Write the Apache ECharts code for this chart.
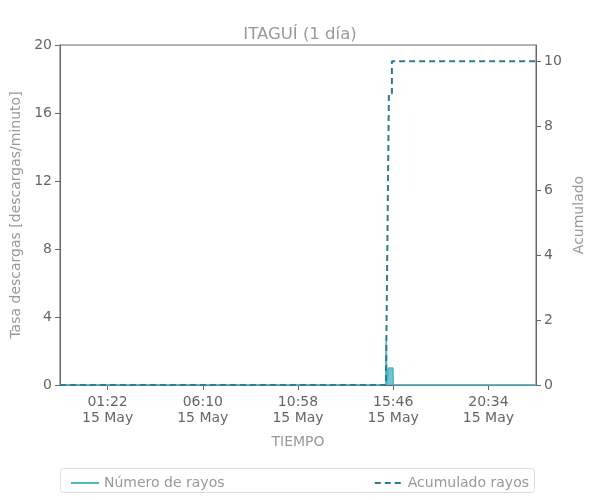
<!DOCTYPE html>
<html>
<head>
<meta charset="utf-8">
<script src="https://cdn.jsdelivr.net/npm/echarts@6/dist/echarts.min.js"></script>
<style>html,body{margin:0;padding:0;background:#fff}#c{width:600px;height:500px}</style>
</head>
<body>
<div id="c"></div>
<script>
// Time in minutes relative to 00:00 of 15 May
var xMin = -62, xMax = 1378;
var tickMinutes = [82, 370, 658, 946, 1234];
var tickLabels = ['01:22\n15 May', '06:10\n15 May', '10:58\n15 May', '15:46\n15 May', '20:34\n15 May'];

var rateTimes = [-62, 923, 925, 927, 931, 932, 945, 946, 1378];
var rateValues = [0, 0, 2.7, 0, 0, 1, 1, 0, 0];

var accTimes = [-62, 924, 933, 942, 942, 1378];
var accValues = [0, 0, 9, 9, 10, 10];

var font = 'DejaVu Sans';
function pairs(t, v) { return t.map(function (x, i) { return [x, v[i]]; }); }

var chart = echarts.init(document.getElementById('c'));
chart.setOption({
  animation: false,
  textStyle: { fontFamily: font },
  title: {
    text: 'ITAGUÍ (1 día)', left: 'center', top: 21,
    textStyle: { fontFamily: font, fontSize: 16.5, fontWeight: 'normal', color: '#999' }
  },
  grid: { left: 60, right: 64, top: 45, bottom: 115, show: true, borderColor: '#666', borderWidth: 1 },
  xAxis: {
    type: 'value', min: xMin, max: xMax,
    name: 'TIEMPO', nameLocation: 'middle', nameGap: 50,
    nameTextStyle: { color: '#999', fontSize: 14 },
    splitLine: { show: false },
    axisLine: { onZero: false, lineStyle: { color: '#666' } },
    axisTick: { customValues: tickMinutes, length: 5, lineStyle: { color: '#666' } },
    axisLabel: {
      customValues: tickMinutes, color: '#666', fontSize: 14, lineHeight: 16, margin: 9,
      formatter: function (v) { var i = tickMinutes.indexOf(v); return i >= 0 ? tickLabels[i] : ''; }
    }
  },
  yAxis: [{
    type: 'value', min: 0, max: 20, interval: 4,
    name: 'Tasa descargas [descargas/minuto]', nameLocation: 'middle', nameGap: 33,
    nameTextStyle: { color: '#999', fontSize: 14 },
    splitLine: { show: false },
    axisLine: { show: true, onZero: false, lineStyle: { color: '#666' } },
    axisTick: { show: true, length: 5, lineStyle: { color: '#666' } },
    axisLabel: { color: '#666', fontSize: 14, margin: 8 }
  }, {
    type: 'value', min: 0, max: 10.5, interval: 2,
    name: 'Acumulado', nameLocation: 'middle', nameGap: 31,
    nameTextStyle: { color: '#999', fontSize: 14 },
    splitLine: { show: false },
    axisLine: { show: true, onZero: false, lineStyle: { color: '#666' } },
    axisTick: { show: true, length: 5, lineStyle: { color: '#666' } },
    axisLabel: { color: '#666', fontSize: 14, margin: 8, showMaxLabel: false }
  }],
  legend: [{
    data: ['Número de rayos'], left: 65, top: 471, itemWidth: 28, itemHeight: 14, itemGap: 10,
    itemStyle: { opacity: 0 },
    textStyle: { color: '#999', fontSize: 14 }
  }, {
    data: ['Acumulado rayos'], right: 66, top: 471, itemWidth: 28, itemHeight: 14,
    itemStyle: { opacity: 0 },
    textStyle: { color: '#999', fontSize: 14 }
  }],
  graphic: [{
    type: 'rect', shape: { x: 60.5, y: 468.5, width: 474, height: 24, r: 3 },
    style: { fill: 'none', stroke: '#ddd', lineWidth: 1 }, silent: true
  }],
  series: [{
    name: 'Número de rayos', type: 'line', yAxisIndex: 0,
    data: pairs(rateTimes, rateValues), symbol: 'none',
    lineStyle: { color: '#4fb6c3', width: 1.5 },
    itemStyle: { color: '#4fb6c3' },
    areaStyle: { color: '#4fb6c3', opacity: 0.8 }
  }, {
    name: 'Acumulado rayos', type: 'line', yAxisIndex: 1,
    data: pairs(accTimes, accValues), symbol: 'none',
    lineStyle: { color: '#2f7b93', width: 2, type: [6, 4] },
    itemStyle: { color: '#2f7b93' },
    z: 3
  }]
});
</script>
</body>
</html>
